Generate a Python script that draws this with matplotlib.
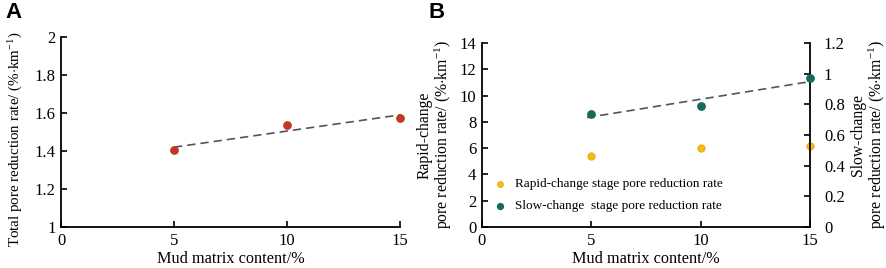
import numpy as np
import matplotlib
matplotlib.use("Agg")
import matplotlib.pyplot as plt

plt.rcParams['font.family'] = ['Liberation Serif', 'DejaVu Serif']
plt.rcParams['mathtext.fontset'] = 'custom'
plt.rcParams['mathtext.rm'] = 'Liberation Serif'
plt.rcParams['mathtext.it'] = 'Liberation Serif:italic'

# Data
mud_content = [5, 10, 15]
total_rate = [1.405, 1.535, 1.575]
rapid_rate = [5.4, 6.0, 6.2]
slow_rate = [0.74, 0.79, 0.97]

x_ticks = [0, 5, 10, 15]
a_yticks = [1, 1.2, 1.4, 1.6, 1.8, 2]
b_left_ticks = [0, 2, 4, 6, 8, 10, 12, 14]
b_right_ticks = [0, 0.2, 0.4, 0.6, 0.8, 1, 1.2]

red = '#bf3a22'
yellow = '#f5bd12'
teal = '#16695c'
dash_col = '#555555'

W, H = 886, 268
fig = plt.figure(figsize=(W / 100, H / 100), dpi=100)

TICK_FS = 12
LAB_FS = 11.7

def fmt(v):
    return '%g' % v

unit = r'(%$\cdot$km$^{\mathrm{-1}}$)'

# Panel A
axA = fig.add_axes([61 / W, (H - 227) / H, (400 - 61) / W, (227 - 37) / H])
axA.scatter(mud_content, total_rate, s=28, color=red, zorder=3, clip_on=False)
c = np.polyfit(mud_content, total_rate, 1)
xx = np.array([5, 15])
axA.plot(xx, np.polyval(c, xx), ls=(0, (5, 3)), color=dash_col, lw=1.2, zorder=2)
axA.set_xlim(0, 15)
axA.set_ylim(1, 2)
axA.set_xticks(x_ticks)
axA.set_xticklabels([fmt(v) for v in x_ticks])
axA.set_yticks(a_yticks)
axA.set_yticklabels([fmt(v) for v in a_yticks])
for s in ['top', 'right']:
    axA.spines[s].set_visible(False)
for s in ['left', 'bottom']:
    axA.spines[s].set_linewidth(1.3)
axA.tick_params(direction='in', length=4, width=1.2, labelsize=TICK_FS, pad=4)
axA.set_xlabel('Mud matrix content/%', fontsize=LAB_FS, labelpad=2)
axA.set_ylabel('Total pore reduction rate/ ' + unit, fontsize=10.8)
axA.yaxis.set_label_coords(-0.105, 0.46)
fig.text(5 / W, 1 - 2 / H, 'A', fontsize=16, fontweight='bold',
         family='Liberation Sans', va='top', ha='left')

# Panel B
axB = fig.add_axes([482 / W, (H - 227) / H, (810 - 482) / W, (227 - 43) / H])
axB.scatter(mud_content, rapid_rate, s=28, color=yellow, edgecolor='#e0a000',
            linewidth=0.5, zorder=3, clip_on=False,
            label='Rapid-change stage pore reduction rate')
axB.set_xlim(0, 15)
axB.set_ylim(0, 14)
axB.set_xticks(x_ticks)
axB.set_xticklabels([fmt(v) for v in x_ticks])
axB.set_yticks(b_left_ticks)
axB.set_yticklabels([fmt(v) for v in b_left_ticks])
axB.spines['top'].set_visible(False)
axB.spines['right'].set_visible(False)
for s in ['left', 'bottom']:
    axB.spines[s].set_linewidth(1.3)
axB.tick_params(direction='in', length=4, width=1.2, labelsize=TICK_FS, pad=4)
axB.set_xlabel('Mud matrix content/%', fontsize=LAB_FS, labelpad=2)
axB.set_ylabel('Rapid-change\npore reduction rate/ ' + unit, fontsize=11.3,
               labelpad=4, linespacing=1.0)

axB2 = axB.twinx()
axB2.scatter(mud_content, slow_rate, s=28, color=teal, zorder=3, clip_on=False,
             label='Slow-change  stage pore reduction rate')
c2 = np.polyfit(mud_content, slow_rate, 1)
xx2 = np.array([4.8, 15])
axB2.plot(xx2, np.polyval(c2, xx2), ls=(0, (5, 3)), color=dash_col, lw=1.2, zorder=2)
axB2.set_ylim(0, 1.2)
axB2.set_yticks(b_right_ticks)
axB2.set_yticklabels([fmt(v) for v in b_right_ticks])
for s in ['top', 'left', 'bottom']:
    axB2.spines[s].set_visible(False)
axB2.spines['right'].set_linewidth(1.3)
axB2.tick_params(direction='in', length=4, width=1.2, labelsize=TICK_FS, pad=10)
axB2.set_ylabel('Slow-change\npore reduction rate/ ' + unit, fontsize=11.3,
                labelpad=4, linespacing=1.0)

h1, l1 = axB.get_legend_handles_labels()
h2, l2 = axB2.get_legend_handles_labels()
axB2.legend(h1 + h2, l1 + l2, loc='lower left', bbox_to_anchor=(-0.025, 0.01),
            frameon=False, fontsize=9.5, handletextpad=0.1, markerscale=0.8,
            labelspacing=0.7, borderaxespad=0.6)
fig.text(428 / W, 1 - 2 / H, 'B', fontsize=16, fontweight='bold',
         family='Liberation Sans', va='top', ha='left')

fig.savefig('out.png', dpi=100)
